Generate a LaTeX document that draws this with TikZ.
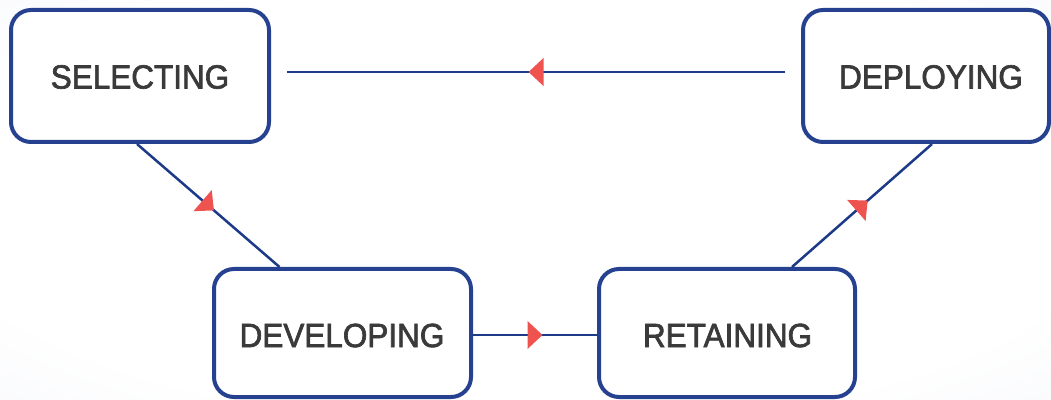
\documentclass[tikz,border=0pt]{standalone}
\usepackage{fontspec}
\newfontfamily\stagefont[FakeStretch=0.94, FakeBold=2]{Liberation Sans}
\usetikzlibrary{decorations.markings}

\definecolor{boxblue}{HTML}{26418F}
\definecolor{linkblue}{HTML}{1C3A88}
\definecolor{tipred}{HTML}{EF5350}
\definecolor{labelgray}{HTML}{3A3A3A}
\definecolor{bgedge}{HTML}{F1F3F9}

% soft white-to-grey backdrop
\pgfdeclareradialshading{backdrop}{\pgfpoint{0bp}{0bp}}{color(0bp)=(white); color(28bp)=(white); color(50bp)=(bgedge)}

\begin{document}
\begin{tikzpicture}[x=1pt,y=1pt,
  stage/.style={draw=boxblue, line width=4pt, rounded corners=20pt, fill=white, inner sep=0pt},
  lbl/.style={text=labelgray, font=\stagefont\fontsize{33.5}{40}\selectfont, inner sep=0pt, anchor=center},
  link/.style={draw=linkblue, line width=2.5pt, postaction={decorate},
    decoration={markings, mark=at position 0.5 with {\fill[tipred] (7.5pt,0pt) -- (-7.5pt,14pt) -- (-7.5pt,-14pt) -- cycle;}}}]

\useasboundingbox (0,0) rectangle (1051,399);
\shade[shading=backdrop] (0,0) rectangle (1051,399);

% stage boxes
\node[stage, minimum width=258pt, minimum height=132pt] (sel) at (140,323) {};
\node[stage, minimum width=246pt, minimum height=132pt] (dep) at (926,323) {};
\node[stage, minimum width=257pt, minimum height=128pt] (dev) at (342.5,66) {};
\node[stage, minimum width=256pt, minimum height=128pt] (ret) at (727,66) {};

% stage names
\node[lbl] (tsel) at (140,322) {SELECTING};
\node[lbl] (tdep) at (931,322) {DEPLOYING};
\node[lbl] (tdev) at (342,63.5) {DEVELOPING};
\node[lbl] (tret) at (727.5,63.5) {RETAINING};

% cycle connectors
\draw[link] ([xshift=-3pt]sel.south) -- ([xshift=-63pt]dev.north);
\draw[link] ([yshift=-2pt]dev.east) -- ([yshift=-2pt]ret.west);
\draw[link] ([xshift=65pt]ret.north) -- ([xshift=6pt]dep.south);
\draw[link] ([shift={(-16pt,4pt)}]dep.west) -- ([shift={(16pt,4pt)}]sel.east);
\end{tikzpicture}
\end{document}
